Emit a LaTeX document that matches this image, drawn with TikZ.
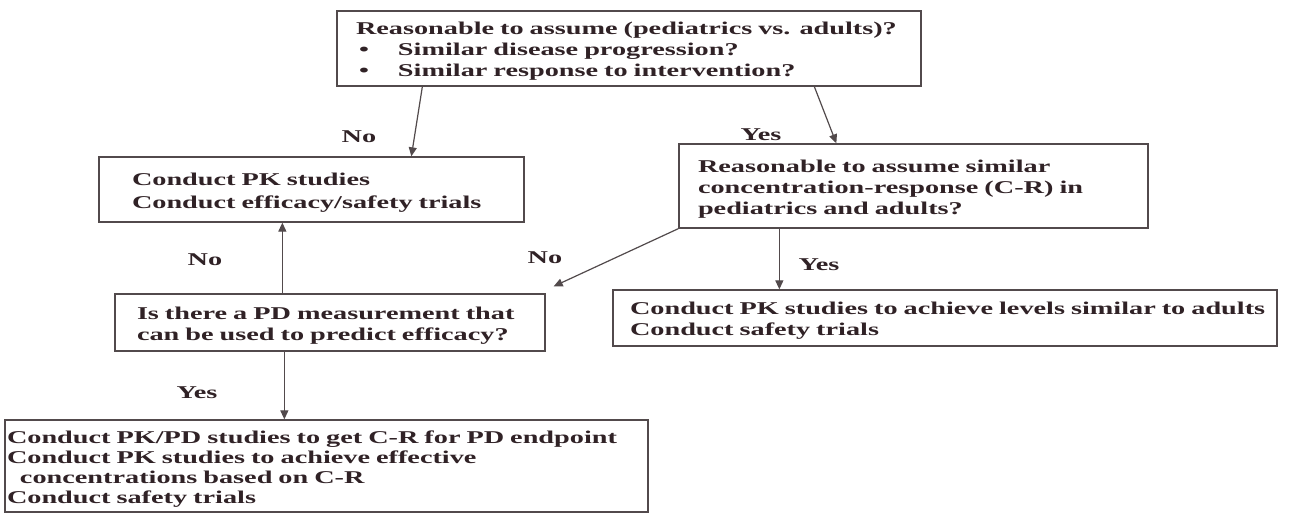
\documentclass[tikz,border=0pt]{standalone}
\usepackage{fontspec}
\newfontfamily\diafont{Liberation Serif}[FakeStretch=1.57]
\usetikzlibrary{arrows.meta,calc}
\definecolor{ink}{RGB}{48,34,38}
\definecolor{edge}{RGB}{82,74,76}
\newcommand{\topstrut}{\rule{0pt}{18pt}}
\begin{document}
\begin{tikzpicture}[x=1pt,y=-1pt,
  font=\diafont\bfseries\fontsize{18pt}{21pt}\selectfont, text=ink,
  box/.style={draw=edge, line width=1.3pt, rectangle, align=left, inner ysep=0pt},
  arr/.style={draw=edge, line width=1.2pt, -{Triangle[length=9pt,width=8pt]}},
  lbl/.style={inner sep=0pt}]
\useasboundingbox[fill=white] (0,0) rectangle (1290,513);

\node[box, minimum height=75pt, inner xsep=19pt, text width=546pt] (top) at (629,48.5)
 {\mbox{\topstrut Reasonable to assume (pediatrics vs. adults)?}\\
  \mbox{\hbox to 42pt{\hskip3pt•\hfil}Similar disease progression?}\\
  \mbox{\hbox to 42pt{\hskip3pt•\hfil}Similar response to intervention?}};

\node[box, minimum height=65pt, inner xsep=33pt, text width=359pt] (pk) at (311.5,189.5)
 {\mbox{\topstrut Conduct PK studies}\\[2pt]
  \mbox{Conduct efficacy/safety trials}};

\node[box, minimum height=84pt, inner xsep=19pt, text width=431pt] (cr) at (913.5,186)
 {\mbox{\topstrut Reasonable to assume similar}\\
  \mbox{concentration-response (C-R) in}\\
  \mbox{pediatrics and adults?}};

\node[box, minimum height=56pt, inner xsep=17pt, text width=630pt] (adult) at (945,318)
 {\mbox{\topstrut Conduct PK studies to achieve levels similar to adults}\\
  \mbox{Conduct safety trials}};

\node[box, minimum height=57pt, inner xsep=22pt, text width=386pt] (pd) at (330,322.5)
 {\mbox{\topstrut Is there a PD measurement that}\\
  \mbox{can be used to predict efficacy?}};

\node[box, minimum height=92pt, inner xsep=2pt, text width=639pt,
      font=\diafont\bfseries\fontsize{18pt}{20pt}\selectfont] (bot) at (326.5,466)
 {\mbox{\topstrut Conduct PK/PD studies to get C-R for PD endpoint}\\
  \mbox{Conduct PK studies to achieve effective}\\
  \mbox{\hskip13pt concentrations based on C-R}\\
  \mbox{Conduct safety trials}};

\draw[arr] ($(top.south west)+(86,0)$) -- ($(pk.north west)+(313,0)$);
\draw[arr] ($(top.south west)+(478,0)$) -- ($(cr.north west)+(158,0)$);
\draw[arr] (cr.south west) -- ($(pd.north east)+(8,-7)$);
\draw[arr] ($(cr.south west)+(101,0)$) -- ($(adult.north west)+(167,0)$);
\draw[arr] ($(pd.north west)+(168,0)$) -- ($(pk.south west)+(184,0)$);
\draw[arr] ($(pd.south west)+(170,0)$) -- ($(bot.north west)+(280,0)$);

\node[lbl] (l1) at (359,137) {No};
\node[lbl] (l2) at (761,135) {Yes};
\node[lbl] (l3) at (545,258) {No};
\node[lbl] (l4) at (819,265) {Yes};
\node[lbl] (l5) at (205,260) {No};
\node[lbl] (l6) at (197,393) {Yes};
\end{tikzpicture}
\end{document}
